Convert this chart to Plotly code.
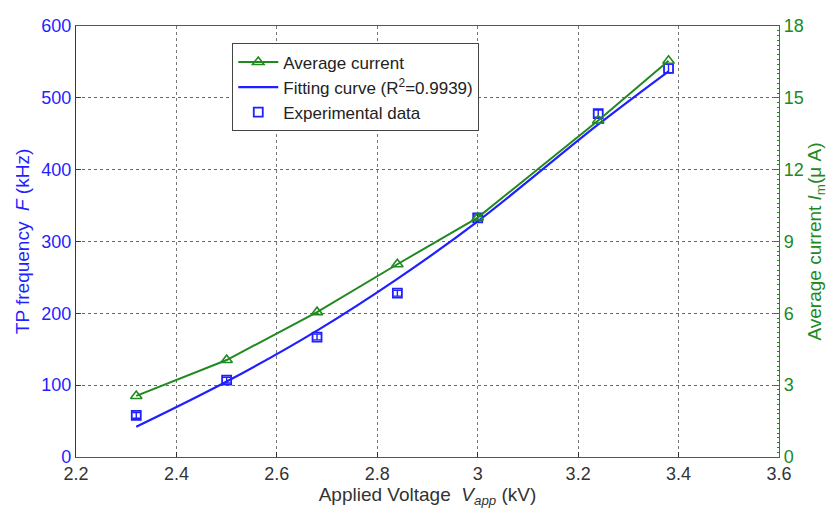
import plotly.graph_objects as go

voltage = [2.32, 2.50, 2.68, 2.84, 3.00, 3.24, 3.38]
tp_freq = [58, 107, 167, 228, 333, 478, 541]
tp_err = [4, 4, 4, 4, 4, 5, 6]
fit_curve = [42, 105, 176, 248, 328, 463, 537]
avg_current = [2.55, 4.05, 6.05, 8.05, 10.0, 14.05, 16.55]

BLUE = "#1f1fff"
GREEN = "#208a20"
FONT = "Liberation Sans, Arial, sans-serif"

fig = go.Figure()
fig.add_trace(go.Scatter(
    x=voltage, y=avg_current, yaxis="y2", mode="lines+markers",
    name="Average current",
    line=dict(color=GREEN, width=2),
    marker=dict(symbol="triangle-up-open", size=10, color=GREEN, line=dict(width=1.6)),
))
fig.add_trace(go.Scatter(
    x=voltage, y=fit_curve, mode="lines",
    name="Fitting curve (R<sup>2</sup>=0.9939)",
    line=dict(color=BLUE, width=2.2, shape="spline"),
))
fig.add_trace(go.Scatter(
    x=voltage, y=tp_freq, mode="markers",
    name="Experimental data",
    marker=dict(symbol="square-open", size=9, color=BLUE, line=dict(width=1.8)),
    error_y=dict(type="data", array=tp_err, color=BLUE, thickness=1.4, width=4),
))

fig.update_layout(
    width=833, height=511,
    margin=dict(l=76, r=53, t=26, b=51),
    paper_bgcolor="white", plot_bgcolor="white",
    font=dict(family=FONT, size=18, color="#333333"),
    showlegend=True,
    legend=dict(
        x=0.222, y=0.96, xanchor="left", yanchor="top",
        bgcolor="white", bordercolor="#444444", borderwidth=1.2,
        font=dict(size=17, color="#222222"),
        tracegroupgap=0, itemwidth=40,
    ),
    xaxis=dict(
        range=[2.2, 3.6], dtick=0.2, tick0=2.2,
        showline=True, linecolor="#555555", linewidth=1.2, mirror=True,
        ticks="inside", ticklen=5, tickcolor="#333333",
        showgrid=True, gridcolor="#777777", griddash="dot", gridwidth=1,
        zeroline=False,
        tickfont=dict(size=18, color="#333333"),
        title=dict(text="Applied Voltage  <i>V</i><sub><i>app</i></sub> (kV)",
                   font=dict(size=19, color="#333333"), standoff=2),
    ),
    yaxis=dict(
        range=[0, 600], dtick=100,
        showline=True, linecolor=BLUE, linewidth=1.2,
        ticks="inside", ticklen=5, tickcolor=BLUE,
        showgrid=True, gridcolor="#5555ff", griddash="dot", gridwidth=1,
        zeroline=False,
        tickfont=dict(size=18, color=BLUE),
        title=dict(text="TP frequency  <i>F</i> (kHz)", font=dict(size=19, color=BLUE), standoff=6),
    ),
    yaxis2=dict(
        range=[0, 18], dtick=3, overlaying="y", side="right",
        showline=True, linecolor=GREEN, linewidth=1.2,
        ticks="inside", ticklen=5, tickcolor=GREEN,
        minor=dict(ticks="inside", ticklen=2, dtick=0.2, tickcolor=GREEN, showgrid=False),
        showgrid=False, zeroline=False,
        tickfont=dict(size=18, color=GREEN),
        title=dict(text="Average current <i>I</i><sub>m</sub>(μ A)", font=dict(size=19, color=GREEN), standoff=4),
    ),
)

fig.write_html("out.html")
